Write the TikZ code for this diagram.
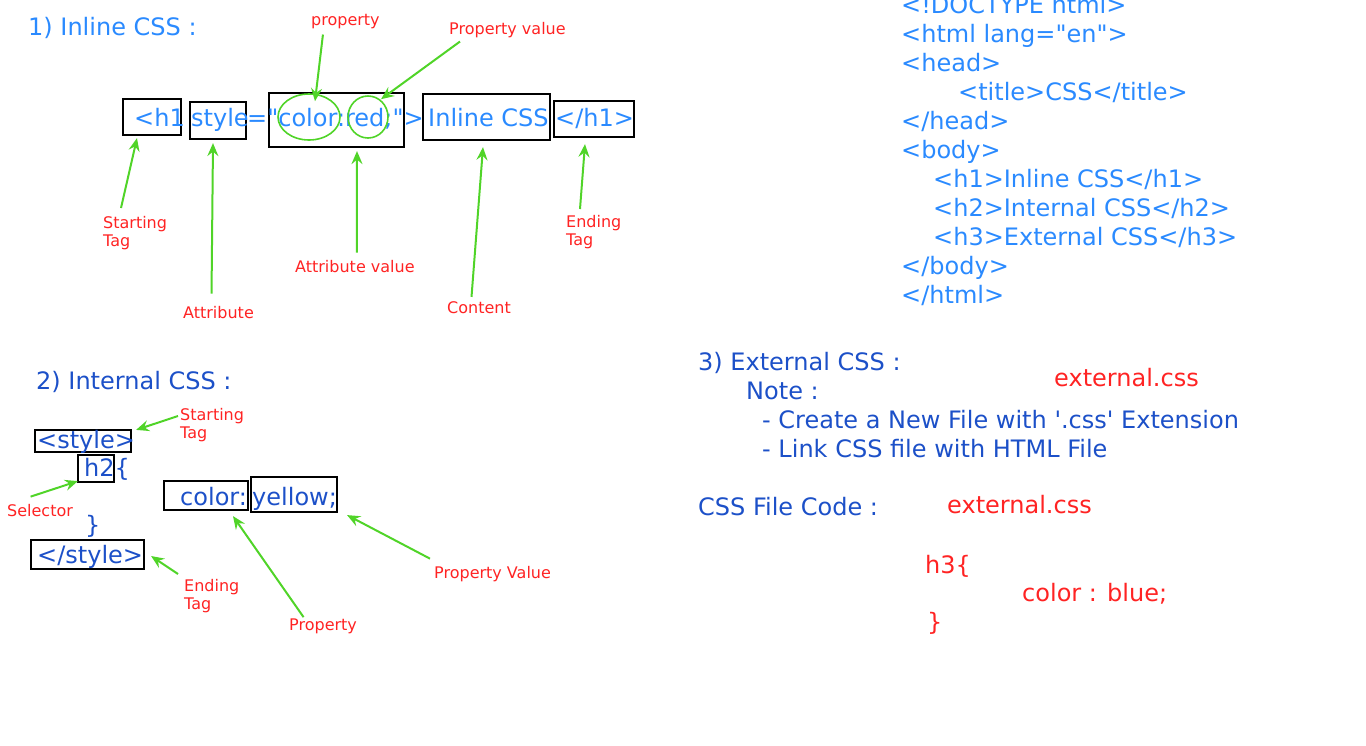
\documentclass[tikz,border=0pt]{standalone}
\usepackage{fontspec}
\setmainfont{DejaVu Sans}[Ligatures=TeXOff]
\usetikzlibrary{positioning,arrows.meta,shapes.geometric}
\definecolor{lblue}{RGB}{42,138,255}
\definecolor{dblue}{RGB}{28,80,200}
\definecolor{tred}{RGB}{255,35,35}
\definecolor{agreen}{RGB}{80,212,40}

\tikzset{
	big/.style={font=\fontsize{24}{29}\selectfont,inner sep=0pt,anchor=base west,yshift=-8.5pt},
	lb/.style={big,text=lblue},
	db/.style={big,text=dblue},
	rd/.style={big,text=tred},
	tip/.style={font=\fontsize{16}{18}\selectfont,text=tred,inner sep=0pt,align=left},
	tip1/.style={tip,anchor=base west,yshift=-6pt},
	tagbox/.style={draw,line width=2.2pt,inner sep=0pt},
	ring/.style={draw=agreen,line width=1.6pt,ellipse,inner sep=0pt},
	arr/.style={draw=agreen,line width=2pt,-{Stealth[length=13pt,width=11pt,inset=4.5pt]}},
}

\begin{document}
\begin{tikzpicture}[x=1pt,y=-1pt]
\useasboundingbox (0,0) rectangle (1366,745);

% inline
\node[lb] (t1) at (28,27) {1) Inline CSS :};
\node[tagbox,minimum width=58,minimum height=36] (bh1) at (152,117) {};
\node[tagbox,minimum width=56,minimum height=37] (bsty) at (218,120.5) {};
\node[tagbox,minimum width=135,minimum height=54] (bval) at (336.5,120) {};
\node[tagbox,minimum width=127,minimum height=46] (bcont) at (486.5,117) {};
\node[tagbox,minimum width=80,minimum height=36] (bend) at (594,119) {};
\node[lb] (c1) at (134,118) {<h1};
\node[lb] (c2) at (191,118) {style};
\node[lb] (c3) at (247,118) {="color:red;">};
\node[lb] (c4) at (428,118) {Inline CSS};
\node[lb] (c5) at (555,118) {</h1>};
\node[ring,minimum width=62,minimum height=46] (ecol) at (309,117) {};
\node[ring,minimum width=40,minimum height=42] (ered) at (368,117) {};

\node[tip1] (lprop) at (311,19) {property};
\node[tip1] (lpval) at (449,28) {Property value};
\node[tip,anchor=north west] (lst1) at (103,216) {Starting\\Tag};
\node[tip1] (latt) at (183,312) {Attribute};
\node[tip1] (laval) at (295,266) {Attribute value};
\node[tip1] (lcont) at (447,307) {Content};
\node[tip,anchor=north west] (lend1) at (566,215) {Ending\\Tag};

\draw[arr] ([shift={(18,-8)}]lst1.north west) -- ([shift={(-15,2)}]bh1.south);
\draw[arr] ([shift={(-7,-12)}]latt.north) -- ([shift={(-5,3)}]bsty.south);
\draw[arr] ([shift={(2,-7)}]laval.north) -- ([shift={(20.5,3)}]bval.south);
\draw[arr] ([shift={(-7.5,-4)}]lcont.north) -- ([shift={(-3.5,6)}]bcont.south);
\draw[arr] ([shift={(14,-6)}]lend1.north west) -- ([shift={(-9,6)}]bend.south);
\draw[arr] ([shift={(-22.5,6)}]lprop.south) -- ([shift={(6,8)}]ecol.north);
\draw[arr] ([shift={(11,4)}]lpval.south west) -- ([shift={(13,4)}]ered.north);

% internal
\node[db] (t2) at (36,381) {2) Internal CSS :};
\node[tagbox,minimum width=96,minimum height=22] (bsty2) at (83,441) {};
\node[tagbox,minimum width=36,minimum height=27] (bh2) at (96,468.5) {};
\node[tagbox,minimum width=113,minimum height=29] (bcls) at (87.5,554.5) {};
\node[tagbox,minimum width=84,minimum height=29] (bcol) at (206,495.5) {};
\node[tagbox,minimum width=86,minimum height=35] (byel) at (294,494.5) {};
\node[db] (s1) at (37,440) {<style>};
\node[db] (s2) at (84,468) {h2\{};
\node[db] (s3) at (85,525) {\}};
\node[db] (s4) at (37,555) {</style>};
\node[db] (s5) at (180,497) {color:};
\node[db] (s6) at (252,497) {yellow;};

\node[tip,anchor=north west] (lst2) at (180,408) {Starting\\Tag};
\node[tip1] (lsel) at (7,510) {Selector};
\node[tip,anchor=north west] (lend2) at (184,579) {Ending\\Tag};
\node[tip1] (lprop2) at (289,624) {Property};
\node[tip1] (lpval2) at (434,572) {Property Value};

\draw[arr] ([shift={(-2,8)}]lst2.north west) -- ([shift={(4,1)}]bsty2.north east);
\draw[arr] ([shift={(-9.5,-7)}]lsel.north) -- ([shift={(1,-2)}]bh2.south west);
\draw[arr] ([shift={(-6,-5)}]lend2.north west) -- ([shift={(6,1.5)}]bcls.east);
\draw[arr] ([shift={(-19.5,-1)}]lprop2.north) -- ([shift={(27,5)}]bcol.south);
\draw[arr] ([shift={(-4,-7)}]lpval2.north west) -- ([shift={(9,2)}]byel.south east);

% html page
\node[lb] (h1) at (901,5) {<!DOCTYPE html>};
\node[lb] (h2) at (901,34) {<html lang="en">};
\node[lb] (h3) at (901,63) {<head>};
\node[lb] (h4) at (958,92) {<title>CSS</title>};
\node[lb] (h5) at (901,121) {</head>};
\node[lb] (h6) at (901,150) {<body>};
\node[lb] (h7) at (933,179) {<h1>Inline CSS</h1>};
\node[lb] (h8) at (933,208) {<h2>Internal CSS</h2>};
\node[lb] (h9) at (933,237) {<h3>External CSS</h3>};
\node[lb] (h10) at (901,266) {</body>};
\node[lb] (h11) at (901,295) {</html>};

% external
\node[db] (t3) at (698,362) {3) External CSS :};
\node[db] (n1) at (746,391) {Note :};
\node[db] (n2) at (762,420) {- Create a New File with '.css' Extension};
\node[db] (n3) at (762,449) {- Link CSS file with HTML File};
\node[rd] (f1) at (1054,378) {external.css};
\node[db] (n4) at (698,507) {CSS File Code :};
\node[rd] (f2) at (947,505) {external.css};
\node[rd] (e1) at (925,565) {h3\{};
\node[rd] (e2) at (1022,593) {color : blue;};
\node[rd] (e3) at (927,622) {\}};
\end{tikzpicture}
\end{document}
